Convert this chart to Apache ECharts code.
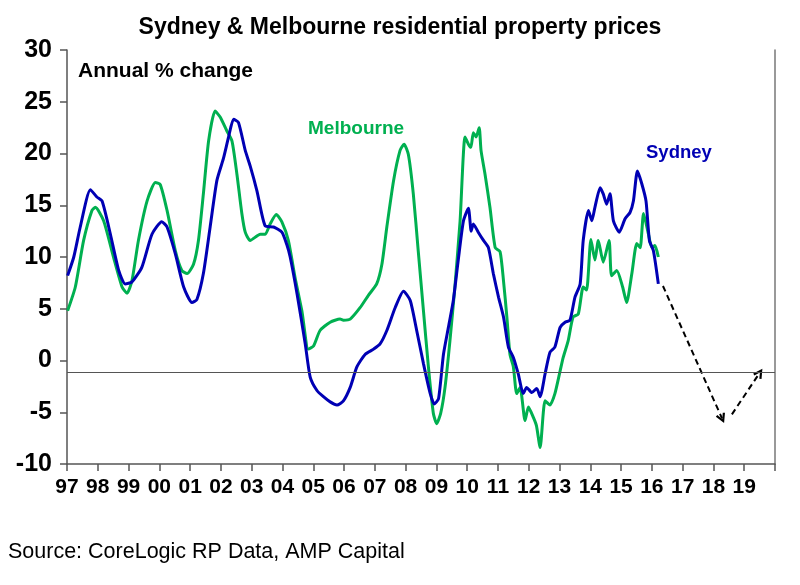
<!DOCTYPE html>
<html>
<head>
<meta charset="utf-8">
<script src="https://cdn.jsdelivr.net/npm/echarts@6/dist/echarts.min.js"></script>
<style>
  html, body { margin: 0; padding: 0; background: #fff; }
  #chart { width: 800px; height: 585px; }
</style>
</head>
<body>
<div id="chart"></div>
<script>
  // x = decimal year, y = annual % change
  var sydneyX = [1997.02, 1997.22, 1997.43, 1997.76, 1997.97, 1998.14, 1998.41, 1998.68, 1998.89, 1999.11,
    1999.43, 1999.76, 2000.08, 2000.25, 2000.52, 2000.79, 2001.06, 2001.22, 2001.43, 2001.65,
    2001.87, 2002.08, 2002.25, 2002.41, 2002.57, 2002.79, 2002.95, 2003.17, 2003.44, 2003.71,
    2003.98, 2004.14, 2004.25, 2004.47, 2004.74, 2004.9, 2005.12, 2005.33, 2005.55, 2005.77,
    2005.98, 2006.2, 2006.42, 2006.69, 2006.96, 2007.17, 2007.39, 2007.66, 2007.93, 2008.15,
    2008.36, 2008.58, 2008.8, 2008.93, 2009.07, 2009.23, 2009.39, 2009.55, 2009.71, 2009.88,
    2010.04, 2010.13, 2010.2, 2010.36, 2010.53, 2010.69, 2010.85, 2011.02, 2011.18, 2011.34,
    2011.5, 2011.66, 2011.82, 2011.93, 2012.1, 2012.26, 2012.37, 2012.53, 2012.69, 2012.85,
    2013.02, 2013.18, 2013.34, 2013.5, 2013.67, 2013.77, 2013.94, 2014.05, 2014.15, 2014.32,
    2014.42, 2014.53, 2014.64, 2014.75, 2014.94, 2015.13, 2015.29, 2015.4, 2015.53, 2015.67,
    2015.81, 2015.92, 2016.05, 2016.21];
  var sydneyY = [8.2, 10.0, 12.9, 16.5, 15.8, 15.4, 12.2, 8.7, 7.4, 7.6,
    9.0, 12.2, 13.4, 12.9, 10.3, 7.1, 5.6, 5.9, 8.4, 12.9,
    17.4, 19.5, 21.6, 23.3, 23.0, 20.3, 18.8, 16.4, 13.0, 12.9,
    12.4, 11.2, 10.0, 6.5, 1.6, -1.6, -2.9, -3.5, -4.0, -4.3,
    -3.9, -2.6, -0.6, 0.6, 1.1, 1.6, 2.9, 5.1, 6.7, 5.8,
    2.9, -0.3, -3.2, -4.2, -3.7, 0.6, 3.2, 5.8, 9.7, 13.5,
    14.7, 12.5, 13.2, 12.4, 11.6, 10.9, 8.4, 6.1, 4.2, 1.3,
    0.3, -1.3, -3.2, -2.6, -3.1, -2.7, -3.5, -1.3, 0.8, 1.3,
    3.2, 3.7, 3.9, 6.1, 7.4, 11.6, 14.5, 13.5, 14.8, 16.7,
    16.1, 15.1, 16.1, 13.5, 12.4, 13.7, 14.3, 15.4, 18.3, 17.1,
    15.4, 11.6, 10.6, 7.4];

  var melbX = [1997.02, 1997.27, 1997.54, 1997.81, 1997.92, 1998.19, 1998.51, 1998.79, 1998.95, 1999.11,
    1999.32, 1999.6, 1999.87, 2000.03, 2000.25, 2000.52, 2000.73, 2000.9, 2001.11, 2001.27,
    2001.43, 2001.6, 2001.81, 2001.98, 2002.19, 2002.36, 2002.52, 2002.68, 2002.79, 2002.95,
    2003.28, 2003.44, 2003.6, 2003.8, 2003.98, 2004.19, 2004.41, 2004.63, 2004.84, 2005.01,
    2005.22, 2005.55, 2005.87, 2005.98, 2006.2, 2006.52, 2006.79, 2007.06, 2007.23, 2007.39,
    2007.61, 2007.82, 2007.95, 2008.09, 2008.25, 2008.41, 2008.58, 2008.74, 2008.9, 2009.01,
    2009.14, 2009.28, 2009.44, 2009.6, 2009.77, 2009.93, 2010.04, 2010.12, 2010.2, 2010.29,
    2010.39, 2010.45, 2010.58, 2010.74, 2010.91, 2011.07, 2011.18, 2011.29, 2011.39, 2011.5,
    2011.61, 2011.72, 2011.88, 2011.99, 2012.15, 2012.25, 2012.37, 2012.53, 2012.69, 2012.85,
    2013.02, 2013.12, 2013.28, 2013.44, 2013.61, 2013.77, 2013.88, 2014.02, 2014.15, 2014.26,
    2014.42, 2014.61, 2014.69, 2014.86, 2015.05, 2015.18, 2015.35, 2015.51, 2015.62, 2015.73,
    2015.89, 2016.0, 2016.1, 2016.21];
  var melbY = [4.8, 7.1, 11.6, 14.5, 14.8, 13.5, 10.0, 7.1, 6.5, 7.7,
    11.6, 15.4, 17.2, 17.0, 14.5, 10.6, 8.7, 8.4, 9.3, 11.6,
    16.1, 21.2, 24.1, 23.5, 22.2, 21.2, 18.0, 14.2, 12.4, 11.6,
    12.2, 12.2, 13.2, 14.1, 13.4, 11.6, 8.0, 4.8, 1.1, 1.4,
    2.9, 3.7, 4.0, 3.9, 4.0, 5.1, 6.3, 7.4, 9.3, 12.9,
    17.4, 20.3, 20.9, 19.9, 16.1, 10.6, 4.8, -0.6, -5.1, -6.1,
    -5.1, -2.6, 1.9, 7.1, 13.5, 21.6, 20.9, 20.6, 22.0, 21.6,
    22.5, 20.3, 18.0, 14.8, 10.9, 10.5, 7.7, 4.2, 0.6, -0.6,
    -3.2, -2.6, -5.8, -4.5, -5.5, -6.3, -8.4, -3.9, -4.3, -3.2,
    -1.0, 0.3, 1.9, 4.2, 4.5, 7.1, 6.8, 11.7, 9.7, 11.6,
    9.5, 11.6, 8.2, 8.7, 7.1, 5.6, 8.4, 11.3, 10.9, 14.2,
    12.2, 10.9, 11.1, 10.0];

  // forecast arrows (down then back up)
  var arrowDownX = [2016.36, 2018.28];
  var arrowDownY = [7.2, -5.6];
  var arrowUpX = [2018.6, 2019.5];
  var arrowUpY = [-5.2, -1.2];

  var refLine = -1.1;
  var yTicks = [-10, 30, 5];
  var xRange = [1997, 2020];

  function zip(xs, ys) {
    return xs.map(function (x, i) { return [x, ys[i]]; });
  }

  var FONT = '"Liberation Sans", Arial, sans-serif';
  var BLUE = '#0000b4';
  var GREEN = '#00b050';
  // open chevron head, pointing up
  var CHEVRON = 'path://M5,0 L10,9 L8,10 L5,4.5 L2,10 L0,9 Z';

  var myChart = echarts.init(document.getElementById('chart'));
  var option = {
    backgroundColor: '#fff',
    animation: false,
    textStyle: { fontFamily: FONT },
    title: {
      text: 'Sydney & Melbourne residential property prices',
      left: 'center',
      top: 11,
      textStyle: { fontFamily: FONT, fontSize: 23, fontWeight: 'bold', color: '#000' }
    },
    grid: { left: 67, right: 25, top: 50, bottom: 121 },
    xAxis: {
      type: 'value',
      min: xRange[0],
      max: xRange[1],
      interval: 1,
      axisLine: { show: true, onZero: false, lineStyle: { color: '#555', width: 1.5 } },
      axisTick: { show: true, length: 7, lineStyle: { color: '#555', width: 1.5 } },
      splitLine: { show: false },
      axisLabel: {
        margin: 13,
        fontSize: 21,
        fontWeight: 'bold',
        color: '#000',
        fontFamily: FONT,
        formatter: function (v) {
          if (v >= xRange[1]) return '';
          return String(v).slice(2);
        }
      }
    },
    yAxis: [{
      type: 'value',
      min: yTicks[0],
      max: yTicks[1],
      interval: yTicks[2],
      axisLine: { show: true, onZero: false, lineStyle: { color: '#555', width: 1.5 } },
      axisTick: { show: true, length: 7, lineStyle: { color: '#555', width: 1.5 } },
      splitLine: { show: false },
      axisLabel: { margin: 15, fontSize: 25, fontWeight: 'bold', color: '#000', fontFamily: FONT }
    }, {
      type: 'value',
      position: 'right',
      min: yTicks[0],
      max: yTicks[1],
      interval: yTicks[2],
      axisLine: { show: true, lineStyle: { color: '#777', width: 1.5 } },
      axisTick: { show: false },
      axisLabel: { show: false },
      splitLine: { show: false }
    }],
    graphic: [
      { type: 'text', left: 78, top: 61, style: { text: 'Annual % change', font: 'bold 21px ' + FONT, fill: '#000' } },
      { type: 'text', left: 308, top: 119, style: { text: 'Melbourne', font: 'bold 19px ' + FONT, fill: GREEN } },
      { type: 'text', left: 646, top: 143, style: { text: 'Sydney', font: 'bold 18.5px ' + FONT, fill: BLUE } },
      { type: 'text', left: 8, top: 541, style: { text: 'Source: CoreLogic RP Data, AMP Capital', font: '21.5px ' + FONT, fill: '#000' } }
    ],
    series: [{
      name: 'Sydney',
      type: 'line',
      data: zip(sydneyX, sydneyY),
      showSymbol: false,
      smooth: 0.2,
      z: 3,
      lineStyle: { color: BLUE, width: 3 },
      markLine: {
        silent: true,
        symbol: 'none',
        label: { show: false },
        lineStyle: { color: '#555', width: 1, type: 'solid' },
        data: [{ yAxis: refLine }]
      }
    }, {
      name: 'Melbourne',
      type: 'line',
      data: zip(melbX, melbY),
      showSymbol: false,
      smooth: 0.2,
      z: 2,
      lineStyle: { color: GREEN, width: 3 }
    }, {
      type: 'lines',
      coordinateSystem: 'cartesian2d',
      symbol: ['none', CHEVRON],
      symbolSize: [11, 10],
      itemStyle: { color: '#000' },
      lineStyle: { color: '#000', width: 2, type: [6, 4], opacity: 1 },
      data: [
        { coords: zip(arrowDownX, arrowDownY) },
        { coords: zip(arrowUpX, arrowUpY) }
      ]
    }]
  };
  myChart.setOption(option, true);
</script>
</body>
</html>
